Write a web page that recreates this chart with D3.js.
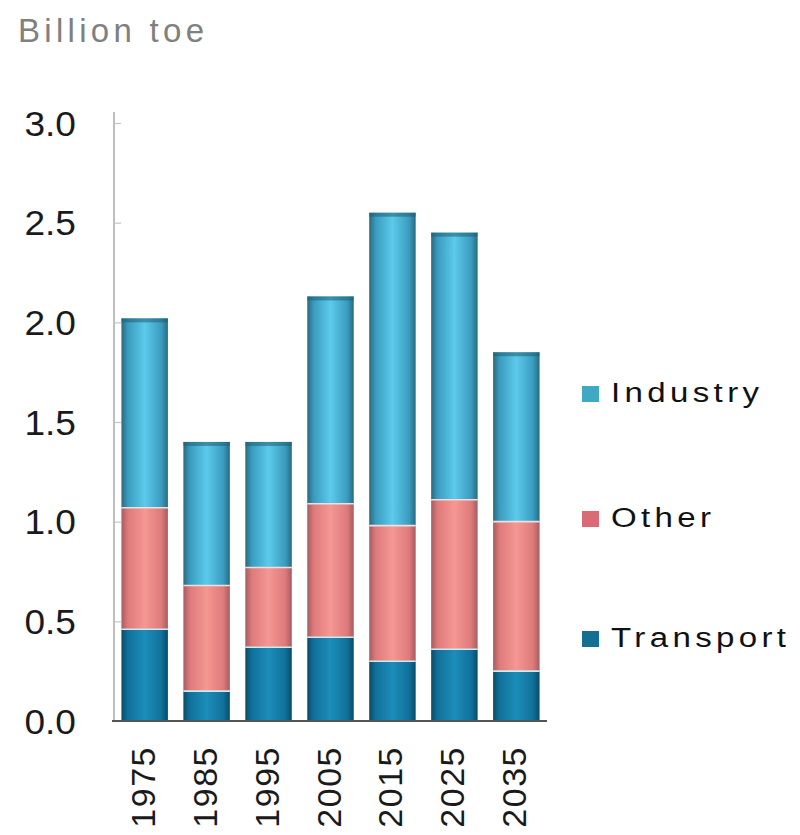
<!DOCTYPE html>
<html>
<head>
<meta charset="utf-8">
<script src="https://cdn.jsdelivr.net/npm/d3@7"></script>
<style>
  html, body { margin: 0; padding: 0; background: #ffffff; }
  svg { display: block; }
  text { font-family: "Liberation Sans", Arial, sans-serif; }
</style>
</head>
<body>
<svg id="chart" width="800" height="835"></svg>
<script>
// Final energy consumption by sector, billion toe
const years = ["1975", "1985", "1995", "2005", "2015", "2025", "2035"];
const transport = [0.46, 0.15, 0.37, 0.42, 0.30, 0.36, 0.25];
const other     = [0.61, 0.53, 0.40, 0.67, 0.68, 0.75, 0.75];
const industry  = [0.95, 0.72, 0.63, 1.04, 1.57, 1.34, 0.85];
const yTicks = [0, 0.5, 1.0, 1.5, 2.0, 2.5, 3.0];
const seriesNames = ["Transport", "Other", "Industry"];
const legendOrder = ["Industry", "Other", "Transport"];

const rows = years.map((y, i) => ({
  year: y, Transport: transport[i], Other: other[i], Industry: industry[i]
}));

const svg = d3.select("#chart");

const x = d3.scaleBand().domain(years).range([114, 547])
  .paddingInner(0.25).paddingOuter(0.12);
const y = d3.scaleLinear().domain([0, 3]).range([721, 123]);

// cylinder-style shading for each series
const shades = {
  Industry:  ["#286a80", "#3a9cbf", "#5ccaec"],
  Other:     ["#a65c60", "#de7a7b", "#f59792"],
  Transport: ["#0a4b69", "#10719a", "#1c8dba"]
};
const defs = svg.append("defs");
seriesNames.forEach(name => {
  const [edge, mid, hi] = shades[name];
  const g = defs.append("linearGradient").attr("id", "grad-" + name)
    .attr("x1", "0%").attr("x2", "100%").attr("y1", "0%").attr("y2", "0%");
  [[0, edge], [0.14, mid], [0.5, hi], [0.86, mid], [1, edge]].forEach(([o, c]) =>
    g.append("stop").attr("offset", o).attr("stop-color", c));
});

// unit label
svg.append("text")
  .attr("x", 18).attr("y", 42)
  .attr("font-size", 33).attr("letter-spacing", 4.3)
  .attr("fill", "#808080")
  .text("Billion toe");

// y axis line and inner ticks
svg.append("line")
  .attr("x1", 114).attr("x2", 114)
  .attr("y1", 112).attr("y2", y(0))
  .attr("stroke", "#a8a8a8").attr("stroke-width", 1.5);

const yAxis = d3.axisRight(y).tickValues(yTicks).tickSize(7).tickFormat("");
const gy = svg.append("g").attr("transform", "translate(114,0)").call(yAxis);
gy.select(".domain").remove();
gy.selectAll(".tick line").attr("stroke", "#c4c4c4").attr("stroke-width", 1.2);

// y tick labels
svg.append("g").selectAll("text").data(yTicks).join("text")
  .attr("transform", d => `translate(76,${y(d)}) scale(1.06,1)`)
  .attr("dy", "0.36em")
  .attr("text-anchor", "end")
  .attr("font-size", 35)
  .attr("fill", "#1a1a1a")
  .text(d => d3.format(".1f")(d));

// stacked bars
const stack = d3.stack().keys(seriesNames);
const layers = stack(rows);

const gBars = svg.append("g");
layers.forEach(layer => {
  const name = layer.key;
  gBars.append("g").selectAll("rect").data(layer).join("rect")
    .attr("x", d => x(d.data.year))
    .attr("width", x.bandwidth())
    .attr("y", d => y(d[1]))
    .attr("height", d => y(d[0]) - y(d[1]))
    .attr("fill", `url(#grad-${name})`);
});

// dark cap along the top of each bar
gBars.append("g").selectAll("rect").data(layers[2]).join("rect")
  .attr("x", d => x(d.data.year))
  .attr("width", x.bandwidth())
  .attr("y", d => y(d[1]))
  .attr("height", 4)
  .attr("fill", "#1f5f73").attr("opacity", 0.55);

// light seams between stacked segments
[layers[0], layers[1]].forEach((layer, li) => {
  gBars.append("g").selectAll("line").data(layer).join("line")
    .attr("x1", d => x(d.data.year))
    .attr("x2", d => x(d.data.year) + x.bandwidth())
    .attr("y1", d => y(d[1])).attr("y2", d => y(d[1]))
    .attr("stroke", li === 0 ? "#cfeaf0" : "#f3dede")
    .attr("stroke-width", 1.6);
});

// baseline
svg.append("line")
  .attr("x1", 112).attr("x2", 547)
  .attr("y1", y(0)).attr("y2", y(0))
  .attr("stroke", "#555").attr("stroke-width", 1.8);

// rotated year labels
svg.append("g").selectAll("text").data(years).join("text")
  .attr("transform", d => `translate(${x(d) + x.bandwidth() / 2 + 10},746) rotate(-90)`)
  .attr("text-anchor", "end")
  .attr("font-size", 34)
  .attr("letter-spacing", 1.5)
  .attr("fill", "#1a1a1a")
  .text(d => d);

// legend
const legendColors = { Industry: "#3fa8c2", Other: "#da6a76", Transport: "#146f93" };
const legendY = { Industry: 402, Other: 527, Transport: 647 };
const gLeg = svg.append("g");
legendOrder.forEach(name => {
  gLeg.append("rect")
    .attr("x", 582).attr("y", legendY[name] - 16)
    .attr("width", 17).attr("height", 16)
    .attr("fill", legendColors[name]);
  gLeg.append("text")
    .attr("transform", `translate(611,${legendY[name]}) scale(1.18,1)`)
    .attr("font-size", 28)
    .attr("letter-spacing", 3.7)
    .attr("fill", "#111")
    .text(name);
});
</script>
</body>
</html>
